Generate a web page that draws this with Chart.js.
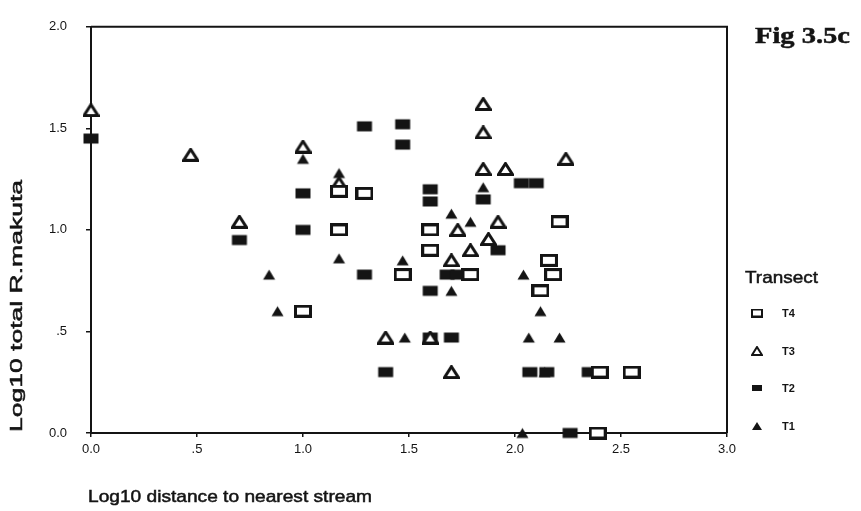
<!DOCTYPE html>
<html>
<head>
<meta charset="utf-8">
<script src="https://cdn.jsdelivr.net/npm/chart.js@4.4.1/dist/chart.umd.min.js"></script>
<style>
html, body { margin: 0; padding: 0; background: #fff; }
#wrap { width: 861px; height: 511px; }
</style>
</head>
<body>
<div id="wrap"><canvas id="graph" width="861" height="511"></canvas></div>
<script>
// log10 distance to nearest stream (x) against log10 total R.makuta (y), one pair of lists per transect
const t4_x = [1.00, 1.17, 1.17, 1.29, 1.47, 1.60, 1.60, 1.79, 2.21, 2.16, 2.18, 2.12, 2.40, 2.55, 2.39];
const t4_y = [0.60, 1.19, 1.00, 1.18, 0.78, 1.00, 0.90, 0.78, 1.04, 0.85, 0.78, 0.70, 0.30, 0.30, 0.00];

const t3_x = [0.00, 0.47, 0.70, 1.00, 1.17, 1.39, 1.60, 1.70, 1.73, 1.70, 1.79, 1.85, 1.85, 1.85, 1.875, 1.92, 1.955, 2.24];
const t3_y = [1.59, 1.37, 1.04, 1.41, 1.23, 0.47, 0.47, 0.85, 1.00, 0.30, 0.90, 1.62, 1.48, 1.30, 0.955, 1.04, 1.30, 1.35];

const t2_x = [0.00, 0.70, 1.00, 1.00, 1.29, 1.47, 1.47, 1.29, 1.39, 1.60, 1.60, 1.60, 1.60, 1.68, 1.73, 1.70, 1.85, 1.92, 2.03, 2.10, 2.07, 2.15, 2.35, 2.26];
const t2_y = [1.45, 0.95, 1.18, 1.00, 1.51, 1.52, 1.42, 0.78, 0.30, 1.20, 1.14, 0.70, 0.47, 0.78, 0.78, 0.47, 1.15, 0.90, 1.23, 1.23, 0.30, 0.30, 0.30, 0.00];

const t1_x = [0.84, 0.88, 1.00, 1.17, 1.17, 1.47, 1.48, 1.70, 1.79, 1.70, 1.85, 2.04, 2.12, 2.065, 2.21, 2.14, 2.035];
const t1_y = [0.78, 0.60, 1.35, 1.28, 0.86, 0.85, 0.47, 1.08, 1.04, 0.70, 1.21, 0.78, 0.60, 0.47, 0.47, 0.30, 0.00];

const x_ticks = [0, 0.5, 1, 1.5, 2, 2.5, 3];
const y_ticks = [0, 0.5, 1, 1.5, 2];
const transects = ["T4", "T3", "T2", "T1"];

const INK = "#141414";

function pairs(xs, ys) {
    let out = [];
    for (let i = 0; i < xs.length; i++) {
        out.push({x: xs[i], y: ys[i]});
    }
    return out;
}

// small canvases used as point styles: open/filled box and open/filled triangle
function make_marker(shape, filled, w, h, lw) {
    const c = document.createElement("canvas");
    c.width = w;
    c.height = h;
    const g = c.getContext("2d");
    g.fillStyle = filled ? INK : "#fff";
    g.strokeStyle = INK;
    g.lineWidth = lw;
    g.lineJoin = "miter";
    const p = lw / 2;
    g.beginPath();
    if (shape === "box") {
        g.rect(p, p, w - lw, h - lw);
    } else {
        g.moveTo(w / 2, p);
        g.lineTo(w - p, h - p);
        g.lineTo(p, h - p);
        g.closePath();
    }
    g.fill();
    if (!filled) g.stroke();
    return c;
}

const marks = [
    make_marker("box", false, 18, 13, 3),
    make_marker("tri", false, 17, 14, 3),
    make_marker("box", true, 18, 13, 3),
    make_marker("tri", true, 15, 13, 3)
];
const legend_marks = [
    make_marker("box", false, 12, 9, 2),
    make_marker("tri", false, 12, 10, 2),
    make_marker("box", true, 12, 8, 2),
    make_marker("tri", true, 12, 10, 2)
];

function tick_text(v) {
    if (v === 0) return "0.0";
    if (v === 0.5) return ".5";
    return v.toFixed(1);
}

// text squeezed or widened to a given width, with a light outline to thicken it
function stretch_text(ctx, text, x, y, width) {
    const w = ctx.measureText(text).width;
    ctx.save();
    ctx.translate(x, y);
    ctx.scale(width / w, 1);
    ctx.fillText(text, 0, 0);
    ctx.strokeStyle = ctx.fillStyle;
    ctx.lineWidth = 0.5;
    ctx.strokeText(text, 0, 0);
    ctx.restore();
}

// frame, titles, legend and figure label
const decor = {
    id: "decor",
    beforeDatasetsDraw(chart) {
        const ctx = chart.ctx;
        const a = chart.chartArea;
        ctx.save();
        ctx.strokeStyle = INK;
        ctx.lineWidth = 2;
        ctx.beginPath();
        ctx.moveTo(a.left, a.top);
        ctx.lineTo(a.right, a.top);
        ctx.lineTo(a.right, a.bottom);
        ctx.stroke();
        ctx.restore();
    },
    afterDraw(chart) {
        const ctx = chart.ctx;
        ctx.save();
        ctx.fillStyle = INK;
        ctx.textBaseline = "alphabetic";
        ctx.textAlign = "left";

        ctx.font = "17px 'Liberation Sans', Arial, sans-serif";
        stretch_text(ctx, "Log10 distance to nearest stream", 88, 502, 284);

        ctx.save();
        ctx.translate(22, 432);
        ctx.rotate(-Math.PI / 2);
        stretch_text(ctx, "Log10 total R.makuta", 0, 0, 252);
        ctx.restore();

        ctx.font = "bold 24px 'Liberation Serif', 'Times New Roman', serif";
        stretch_text(ctx, "Fig 3.5c", 755, 43, 95);

        ctx.font = "17px 'Liberation Sans', Arial, sans-serif";
        stretch_text(ctx, "Transect", 745, 283, 73);

        const rows = [313, 351, 388, 426];
        ctx.font = "bold 11px 'Liberation Sans', Arial, sans-serif";
        ctx.textBaseline = "middle";
        for (let i = 0; i < transects.length; i++) {
            const m = legend_marks[i];
            ctx.drawImage(m, 757 - m.width / 2, rows[i] - m.height / 2);
            ctx.fillText(transects[i], 782, rows[i] + 1);
        }
        ctx.restore();
    }
};

const series = [
    pairs(t4_x, t4_y),
    pairs(t3_x, t3_y),
    pairs(t2_x, t2_y),
    pairs(t1_x, t1_y)
];

const ctx = document.getElementById("graph").getContext("2d");
const myChart = new Chart(ctx, {
    type: "scatter",
    data: {
        datasets: transects.map((name, i) => ({
            label: name,
            data: series[i],
            pointStyle: marks[i],
            pointRadius: 8,
            pointHoverRadius: 8,
            clip: false
        }))
    },
    options: {
        responsive: false,
        animation: false,
        events: [],
        layout: {
            padding: {top: 19, right: 134, bottom: 0, left: 0}
        },
        plugins: {
            legend: {display: false},
            tooltip: {enabled: false}
        },
        scales: {
            x: {
                type: "linear",
                min: 0,
                max: 3,
                afterFit: (s) => { s.height = 78; },
                afterBuildTicks: (s) => { s.ticks = x_ticks.map(v => ({value: v})); },
                grid: {drawOnChartArea: false, tickLength: 4, color: INK, lineWidth: 1.5},
                border: {color: INK, width: 2},
                ticks: {
                    padding: 5,
                    color: INK,
                    maxRotation: 0,
                    font: {family: "'Liberation Sans', Arial, sans-serif", size: 13},
                    callback: (v) => tick_text(v)
                }
            },
            y: {
                type: "linear",
                min: 0,
                max: 2,
                afterFit: (s) => { s.width = 91; },
                afterBuildTicks: (s) => { s.ticks = y_ticks.map(v => ({value: v})); },
                grid: {drawOnChartArea: false, tickLength: 5, color: INK, lineWidth: 1.5},
                border: {color: INK, width: 2},
                ticks: {
                    padding: 19,
                    color: INK,
                    font: {family: "'Liberation Sans', Arial, sans-serif", size: 13},
                    callback: (v) => tick_text(v)
                }
            }
        }
    },
    plugins: [decor]
});
</script>
</body>
</html>
